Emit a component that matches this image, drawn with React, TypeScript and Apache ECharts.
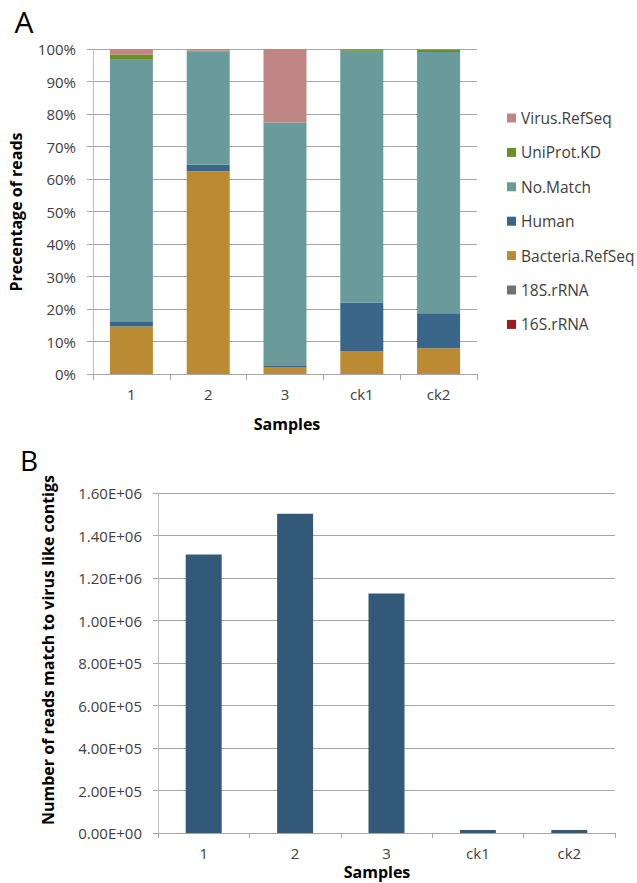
import React, { useEffect, useRef } from "react";
import * as echarts from "echarts";

const samples = ["1", "2", "3", "ck1", "ck2"];
const rRNA16S = [0, 0, 0, 0, 0];
const rRNA18S = [0, 0, 0, 0, 0];
const bacteria = [14.6, 62.4, 2.15, 6.9, 7.9];
const human = [1.6, 2.0, 0.3, 15.1, 10.8];
const noMatch = [80.5, 34.8, 74.9, 77.5, 80.4];
const uniprot = [1.6, 0.3, 0, 0.4, 0.6];
const virus = [1.7, 0.5, 22.65, 0.1, 0.3];
const pctTicks = [0, 10, 20, 30, 40, 50, 60, 70, 80, 90, 100];

const readsMatched = [1311000, 1502000, 1127000, 14000, 14000];

const FONT = "'Open Sans', 'Noto Sans', sans-serif";

function sci(v: number): string {
  if (v === 0) return "0.00E+00";
  const e = Math.floor(Math.log10(v) + 1e-9);
  const m = v / Math.pow(10, e);
  return m.toFixed(2) + "E+" + (e < 10 ? "0" + e : String(e));
}

export default function App() {
  const ref = useRef<HTMLDivElement>(null);
  useEffect(() => {
    if (!ref.current) return;
    const chart = echarts.init(ref.current, undefined, { renderer: "svg" });
    const stackSeries = [
      { name: "16S.rRNA", data: rRNA16S, color: "#9B1B1E" },
      { name: "18S.rRNA", data: rRNA18S, color: "#727272" },
      { name: "Bacteria.RefSeq", data: bacteria, color: "#BB8B33" },
      { name: "Human", data: human, color: "#3A6789" },
      { name: "No.Match", data: noMatch, color: "#6A9B9B" },
      { name: "UniProt.KD", data: uniprot, color: "#6B8E23" },
      { name: "Virus.RefSeq", data: virus, color: "#C08684" },
    ];
    const gridLine = { show: true, lineStyle: { color: "#A6A6A6", width: 1 } };
    const axisLabel = { color: "#404040", fontSize: 15, fontFamily: FONT };
    chart.setOption({
      animation: false,
      backgroundColor: "#ffffff",
      textStyle: { fontFamily: FONT },
      grid: [
        { left: 93, top: 49, width: 384, height: 325, containLabel: false },
        { left: 158, top: 493, width: 457, height: 340, containLabel: false },
      ],
      legend: {
        orient: "vertical",
        left: 507,
        top: 110,
        padding: 0,
        itemWidth: 9,
        itemHeight: 9,
        itemGap: 18.4,
        icon: "rect",
        data: [
          "Virus.RefSeq",
          "UniProt.KD",
          "No.Match",
          "Human",
          "Bacteria.RefSeq",
          "18S.rRNA",
          "16S.rRNA",
        ],
        textStyle: { color: "#404040", fontSize: 15.5, lineHeight: 16, fontFamily: FONT, padding: [0, 0, 0, 0] },
      },
      xAxis: [
        {
          gridIndex: 0,
          type: "category",
          data: samples,
          axisLine: { show: true, lineStyle: { color: "#A6A6A6" } },
          axisTick: { show: true, length: 6, lineStyle: { color: "#A6A6A6" } },
          axisLabel: { ...axisLabel, margin: 12 },
        },
        {
          gridIndex: 1,
          type: "category",
          data: samples,
          axisLine: { show: true, lineStyle: { color: "#A6A6A6" } },
          axisTick: { show: true, length: 5, lineStyle: { color: "#A6A6A6" } },
          axisLabel: { ...axisLabel, margin: 12 },
        },
      ],
      yAxis: [
        {
          gridIndex: 0,
          type: "value",
          min: pctTicks[0],
          max: pctTicks[pctTicks.length - 1],
          interval: 10,
          axisLine: { show: true, lineStyle: { color: "#BFBFBF" } },
          axisTick: { show: true, length: 6, lineStyle: { color: "#A6A6A6" } },
          splitLine: gridLine,
          axisLabel: { ...axisLabel, margin: 17, formatter: "{value}%" },
        },
        {
          gridIndex: 1,
          type: "value",
          min: 0,
          max: 1600000,
          interval: 200000,
          axisLine: { show: true, lineStyle: { color: "#BFBFBF" } },
          axisTick: { show: true, length: 5, lineStyle: { color: "#A6A6A6" } },
          splitLine: gridLine,
          axisLabel: { ...axisLabel, margin: 16, formatter: (v: number) => sci(v) },
        },
      ],
      series: [
        ...stackSeries.map((s) => ({
          name: s.name,
          type: "bar",
          stack: "total",
          xAxisIndex: 0,
          yAxisIndex: 0,
          barWidth: 43,
          data: s.data,
          itemStyle: { color: s.color },
        })),
        {
          name: "Reads",
          type: "bar",
          xAxisIndex: 1,
          yAxisIndex: 1,
          barWidth: 36,
          data: readsMatched,
          itemStyle: { color: "#325A78" },
        },
      ],
      graphic: [
        {
          type: "text",
          x: 24,
          y: 21,
          style: { text: "A", font: `30px ${FONT}`, fill: "#000", align: "center", verticalAlign: "middle" },
        },
        {
          type: "text",
          x: 29,
          y: 460,
          style: { text: "B", font: `28px ${FONT}`, fill: "#000", align: "center", verticalAlign: "middle" },
        },
        {
          type: "text",
          x: 16,
          y: 212,
          rotation: Math.PI / 2,
          style: {
            text: "Precentage of reads",
            font: `bold 16px ${FONT}`,
            fill: "#000",
            align: "center",
            verticalAlign: "middle",
          },
        },
        {
          type: "text",
          x: 287,
          y: 424,
          style: { text: "Samples", font: `bold 16px ${FONT}`, fill: "#000", align: "center", verticalAlign: "middle" },
        },
        {
          type: "text",
          x: 48,
          y: 650,
          rotation: Math.PI / 2,
          style: {
            text: "Number of reads match to virus like contigs",
            font: `bold 16px ${FONT}`,
            fill: "#000",
            align: "center",
            verticalAlign: "middle",
          },
        },
        {
          type: "text",
          x: 377,
          y: 872,
          style: { text: "Samples", font: `bold 16px ${FONT}`, fill: "#000", align: "center", verticalAlign: "middle" },
        },
      ],
    });
    return () => chart.dispose();
  }, []);
  return (
    <div
      ref={ref}
      style={{ position: "absolute", left: 0, top: 0, width: 637, height: 883 }}
    />
  );
}
